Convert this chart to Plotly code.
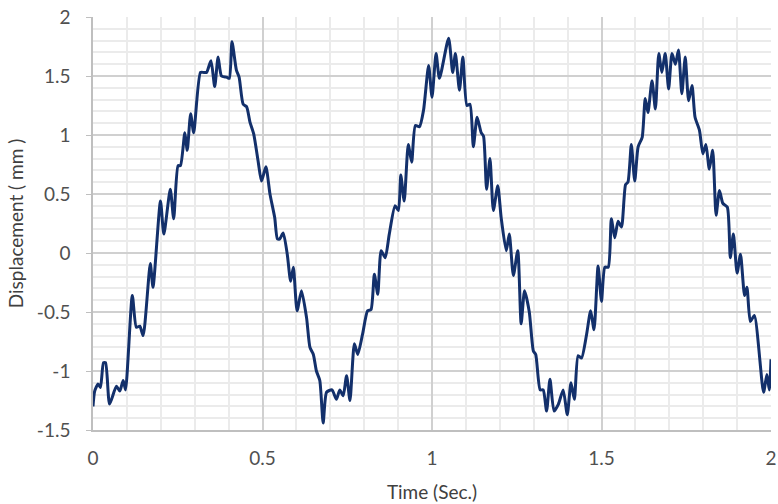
import plotly.graph_objects as go

# Time (s) and displacement (mm)
time_s = [0.000, 0.005, 0.015, 0.022, 0.031, 0.037, 0.049, 0.069, 0.079, 0.089,
          0.096, 0.116, 0.128, 0.138, 0.148, 0.169, 0.177, 0.199, 0.209, 0.228,
          0.238, 0.251, 0.258, 0.271, 0.278, 0.288, 0.297, 0.317, 0.327, 0.335,
          0.348, 0.359, 0.369, 0.379, 0.394, 0.402, 0.410, 0.423, 0.431, 0.443,
          0.453, 0.463, 0.474, 0.487, 0.497, 0.510, 0.522, 0.536, 0.544, 0.551,
          0.561, 0.573, 0.583, 0.591, 0.602, 0.615, 0.630, 0.640, 0.650, 0.659,
          0.669, 0.679, 0.689, 0.705, 0.718, 0.728, 0.738, 0.748, 0.758, 0.771,
          0.781, 0.795, 0.810, 0.820, 0.830, 0.840, 0.850, 0.862, 0.874, 0.891,
          0.901, 0.908, 0.918, 0.930, 0.940, 0.951, 0.963, 0.975, 0.990, 1.000,
          1.012, 1.022, 1.049, 1.061, 1.069, 1.081, 1.091, 1.103, 1.112, 1.122,
          1.133, 1.145, 1.152, 1.161, 1.171, 1.181, 1.194, 1.204, 1.219, 1.228,
          1.240, 1.253, 1.263, 1.273, 1.287, 1.299, 1.306, 1.319, 1.328, 1.338,
          1.348, 1.360, 1.373, 1.387, 1.399, 1.410, 1.420, 1.431, 1.441, 1.456,
          1.468, 1.478, 1.490, 1.500, 1.510, 1.520, 1.529, 1.539, 1.549, 1.559,
          1.571, 1.578, 1.588, 1.598, 1.608, 1.620, 1.629, 1.637, 1.649, 1.659,
          1.669, 1.678, 1.688, 1.698, 1.708, 1.718, 1.727, 1.737, 1.747, 1.757,
          1.767, 1.776, 1.789, 1.799, 1.808, 1.818, 1.828, 1.838, 1.848, 1.858,
          1.871, 1.880, 1.889, 1.900, 1.910, 1.922, 1.929, 1.939, 1.951, 1.978,
          1.988, 1.995, 2.000]
displacement_mm = [-1.30, -1.17, -1.11, -1.14, -0.93, -0.93, -1.28, -1.13, -1.17, -1.08,
                   -1.16, -0.36, -0.63, -0.62, -0.70, -0.09, -0.29, 0.44, 0.16, 0.54,
                   0.29, 0.74, 0.74, 1.02, 0.87, 1.18, 1.02, 1.53, 1.53, 1.53,
                   1.63, 1.41, 1.66, 1.50, 1.49, 1.48, 1.79, 1.55, 1.49, 1.26,
                   1.24, 1.11, 1.01, 0.78, 0.61, 0.73, 0.50, 0.30, 0.12, 0.12,
                   0.17, -0.01, -0.24, -0.12, -0.49, -0.32, -0.55, -0.80, -0.86, -1.00,
                   -1.08, -1.44, -1.18, -1.16, -1.24, -1.16, -1.21, -1.04, -1.25, -0.77,
                   -0.86, -0.69, -0.49, -0.48, -0.18, -0.35, 0.02, -0.04, 0.16, 0.40,
                   0.36, 0.66, 0.44, 0.92, 0.77, 1.08, 1.07, 1.21, 1.59, 1.32,
                   1.69, 1.48, 1.82, 1.53, 1.69, 1.38, 1.66, 1.25, 1.26, 0.90,
                   1.15, 1.02, 0.99, 0.54, 0.80, 0.36, 0.57, 0.30, 0.02, 0.16,
                   -0.19, 0.02, -0.60, -0.32, -0.50, -0.83, -0.86, -1.16, -1.16, -1.34,
                   -1.07, -1.34, -1.28, -1.16, -1.37, -1.10, -1.24, -0.87, -0.89, -0.69,
                   -0.49, -0.65, -0.11, -0.41, -0.12, -0.12, 0.29, 0.13, 0.27, 0.22,
                   0.58, 0.60, 0.92, 0.61, 0.90, 0.98, 1.31, 1.19, 1.46, 1.22,
                   1.69, 1.53, 1.69, 1.39, 1.69, 1.60, 1.72, 1.35, 1.66, 1.29,
                   1.42, 1.15, 1.04, 0.84, 0.92, 0.71, 0.87, 0.32, 0.53, 0.42,
                   0.39, -0.04, 0.16, -0.17, -0.01, -0.36, -0.29, -0.58, -0.53, -1.18,
                   -1.03, -1.16, -0.90]

# y tick labels as in the original (plain hyphen for negatives)
y_tick_values = [-1.5, -1, -0.5, 0, 0.5, 1, 1.5, 2]
y_tick_labels = ["-1.5", "-1", "-0.5", "0", "0.5", "1", "1.5", "2"]

fig = go.Figure()
fig.add_trace(go.Scatter(
    x=time_s,
    y=displacement_mm,
    mode="lines",
    line=dict(color="#13306b", width=3, shape="spline", smoothing=0.6),
    showlegend=False,
))

tick_font = dict(family="Lato, Open Sans, sans-serif", size=19, color="#505050")
title_font = dict(family="Lato, Open Sans, sans-serif", size=19, color="#404040")

fig.update_layout(
    width=778,
    height=504,
    margin=dict(l=93, r=1, t=17, b=74),
    paper_bgcolor="white",
    plot_bgcolor="white",
    font=tick_font,
)

fig.update_xaxes(
    range=[0, 2],
    dtick=0.5,
    showgrid=True,
    gridcolor="#d0d0d0",
    gridwidth=1.5,
    minor=dict(dtick=0.1, showgrid=True, gridcolor="#ebebeb", gridwidth=1.5),
    showline=True,
    linecolor="#bfbfbf",
    linewidth=1.5,
    zeroline=False,
    ticks="",
    ticklabelstandoff=10,
    ticklabeloverflow="allow",
    tickfont=tick_font,
    title=dict(text="Time (Sec.)", font=title_font, standoff=18),
)

fig.update_yaxes(
    range=[-1.5, 2],
    tickmode="array",
    tickvals=y_tick_values,
    ticktext=y_tick_labels,
    showgrid=True,
    gridcolor="#d0d0d0",
    gridwidth=1.5,
    minor=dict(dtick=0.1, showgrid=True, gridcolor="#ebebeb", gridwidth=1.5),
    showline=True,
    linecolor="#bfbfbf",
    linewidth=1.5,
    zeroline=False,
    ticks="outside",
    ticklen=5,
    tickcolor="#bfbfbf",
    ticklabelstandoff=12,
    ticklabeloverflow="allow",
    tickfont=tick_font,
    title=dict(text="Displacement ( mm )", font=title_font, standoff=8),
)

# drop the browser's default page margin so the figure fills the window
fig.write_html(
    "out.html",
    config={"displayModeBar": False},
    post_script="document.body.style.margin = '0';",
)
